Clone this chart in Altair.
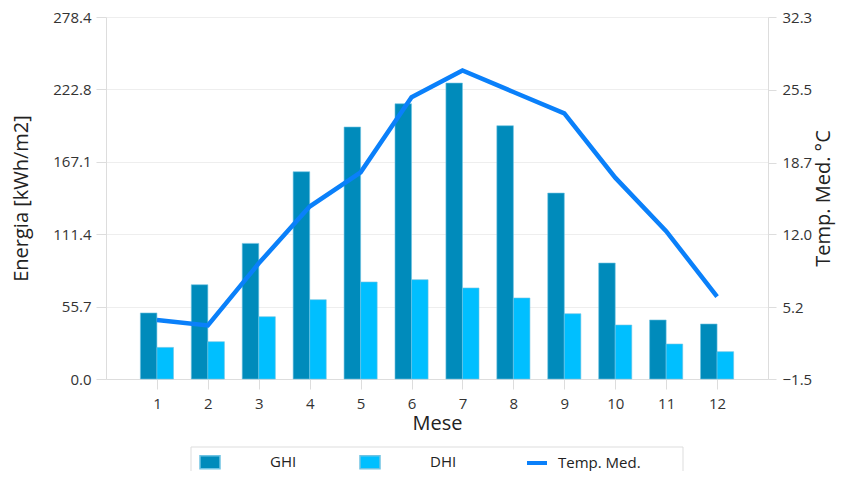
import altair as alt
import pandas as pd

months = list(range(1, 13))
ghi = [50.8, 72.5, 104.3, 159.4, 193.8, 211.7, 227.6, 194.8, 143.0, 89.2, 45.4, 42.3]
dhi = [24.3, 28.7, 47.9, 61.0, 74.6, 76.4, 70.0, 62.3, 50.2, 41.5, 26.9, 21.0]
temp = [4.0, 3.5, 9.3, 14.6, 17.8, 24.8, 27.3, 25.3, 23.3, 17.3, 12.3, 6.2]
left_ticks = [0.0, 55.7, 111.4, 167.1, 222.8, 278.4]
right_ticks = [-1.5, 5.2, 12.0, 18.7, 25.5, 32.3]

FONT = "Open Sans"

bars_df = pd.DataFrame({
    "month": months * 2,
    "value": ghi + dhi,
    "series": ["GHI"] * 12 + ["DHI"] * 12,
})
temp_df = pd.DataFrame({"month": months, "temp": temp, "tser": ["Temp. Med."] * 12})

xscale = alt.Scale(domain=[0, 13], nice=False, zero=False)
xaxis = alt.Axis(values=months, format="d", title="Mese", grid=False,
                 tickSize=10, labelPadding=7, titlePadding=2)

bars = alt.Chart(bars_df).transform_calculate(
    x0="datum.series == 'GHI' ? datum.month - 0.325 : datum.month",
    x1="datum.series == 'GHI' ? datum.month : datum.month + 0.325",
).mark_bar(stroke="#6fc3e3", strokeWidth=0.6).encode(
    x=alt.X("x0:Q", scale=xscale, axis=xaxis, title="Mese"),
    x2="x1:Q",
    y=alt.Y("value:Q", scale=alt.Scale(domain=[0, 278.4], nice=False),
            axis=alt.Axis(orient="left", values=left_ticks, format=".1f",
                          title="Energia [kWh/m2]", tickSize=10, labelPadding=5,
                          titlePadding=21, grid=True)),
    y2=alt.datum(0),
    color=alt.Color("series:N",
                    scale=alt.Scale(domain=["GHI", "DHI"], range=["#008bbb", "#00bfff"]),
                    legend=alt.Legend(orient="none", legendX=93, legendY=434,
                                      direction="horizontal", title=None,
                                      symbolType="M-1,-0.65H1V0.65H-1Z", symbolSize=400,
                                      labelOffset=49, columnPadding=60, padding=0,
                                      labelFontSize=15, labelFont=FONT, labelColor="#222",
                                      symbolOpacity=1)),
)

line = alt.Chart(temp_df).mark_line(strokeWidth=4.5).encode(
    x=alt.X("month:Q", scale=xscale, title="Mese"),
    y=alt.Y("temp:Q", scale=alt.Scale(domain=[-1.5, 32.3], nice=False, zero=False),
            axis=alt.Axis(orient="right", values=right_ticks, format=".1f",
                          title="Temp. Med. °C", grid=False, titleAngle=270,
                          tickSize=8, labelPadding=6, titlePadding=22)),
    stroke=alt.Stroke("tser:N",
                      scale=alt.Scale(domain=["Temp. Med."], range=["#0a80fa"]),
                      legend=alt.Legend(orient="none", legendX=419, legendY=434,
                                        direction="horizontal", title=None,
                                        symbolType="stroke", symbolSize=400,
                                        symbolStrokeWidth=4, labelOffset=9, padding=0,
                                        labelFontSize=15, labelFont=FONT, labelColor="#222")),
)

box = alt.Chart(pd.DataFrame({"a": [0]})).mark_rect(
    fill="white", fillOpacity=0, stroke="#dddddd", strokeWidth=1
).encode(x=alt.value(85), x2=alt.value(577), y=alt.value(430), y2=alt.value(480))

chart = alt.layer(box, bars, line).resolve_scale(
    y="independent", color="independent", stroke="independent"
).properties(
    width=662, height=362,
    padding={"left": 98, "top": 9, "right": 69, "bottom": 92},
    autosize=alt.AutoSizeParams(type="none"),
).configure_view(stroke=None).configure_axis(
    labelFont=FONT, labelFontSize=15, labelColor="#333333",
    titleFont=FONT, titleFontSize=20, titleFontWeight="normal", titleColor="#222222",
    domainColor="#dddddd", tickColor="#dddddd", gridColor="#eeeeee",
)

chart.save("out.html", embed_options={"renderer": "svg", "actions": False})
